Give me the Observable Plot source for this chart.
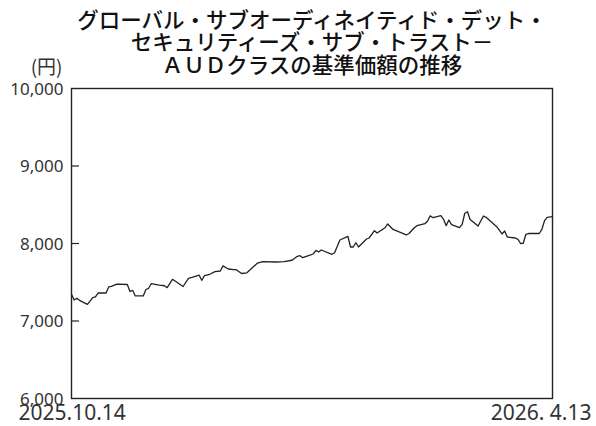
<!DOCTYPE html>
<html>
<head>
<meta charset="utf-8">
<script src="https://cdn.jsdelivr.net/npm/d3@7"></script>
<script src="https://cdn.jsdelivr.net/npm/@observablehq/plot@0.6"></script>
<style>
  html, body { margin: 0; padding: 0; background: #fff; }
  #chart svg { display: block; }
</style>
</head>
<body>
<div id="chart"></div>
<script>
const titleLines = [
  "グローバル・サブオーディネイティド・デット・",
  "セキュリティーズ・サブ・トラスト－",
  "ＡＵＤクラスの基準価額の推移"
];
const unitLabel = "(円)";
const startLabel = "2025.10.14";
const endLabel = "2026. 4.13";
const yTicks = [6000, 7000, 8000, 9000, 10000];
const innerTicks = [7000, 8000, 9000];

const dates = [
  "2025-10-14","2025-10-15","2025-10-16","2025-10-17","2025-10-20","2025-10-22","2025-10-23","2025-10-24",
  "2025-10-27","2025-10-28","2025-10-29","2025-10-31","2025-11-04","2025-11-05","2025-11-06","2025-11-07",
  "2025-11-10","2025-11-11","2025-11-12","2025-11-13","2025-11-16","2025-11-18","2025-11-19","2025-11-21",
  "2025-11-25","2025-11-27","2025-11-29","2025-12-01","2025-12-02","2025-12-03","2025-12-05","2025-12-07",
  "2025-12-09","2025-12-10","2025-12-12","2025-12-14","2025-12-15","2025-12-17","2025-12-19","2025-12-23",
  "2025-12-25","2025-12-30","2026-01-02","2026-01-05","2026-01-07","2026-01-08","2026-01-09","2026-01-12",
  "2026-01-13","2026-01-14","2026-01-15","2026-01-16","2026-01-20","2026-01-21","2026-01-23","2026-01-26",
  "2026-01-27","2026-01-28","2026-01-29","2026-01-30","2026-02-02","2026-02-03","2026-02-05","2026-02-06",
  "2026-02-09","2026-02-10","2026-02-12","2026-02-17","2026-02-18","2026-02-20","2026-02-21","2026-02-24",
  "2026-02-25","2026-02-26","2026-02-27","2026-03-02","2026-03-03","2026-03-04","2026-03-05","2026-03-06",
  "2026-03-09","2026-03-10","2026-03-11","2026-03-12","2026-03-13","2026-03-16","2026-03-18","2026-03-19",
  "2026-03-23","2026-03-25","2026-03-26","2026-03-27","2026-03-30","2026-03-31","2026-04-01","2026-04-02",
  "2026-04-03","2026-04-04","2026-04-08","2026-04-09","2026-04-10","2026-04-11","2026-04-13"
];
const navValues = [
  7345, 7271, 7293, 7267, 7215, 7301, 7310, 7361,
  7361, 7439, 7448, 7477, 7471, 7381, 7396, 7323,
  7323, 7406, 7422, 7481, 7464, 7455, 7430, 7538,
  7445, 7551, 7568, 7593, 7525, 7584, 7603, 7636,
  7645, 7712, 7671, 7662, 7662, 7613, 7622, 7748,
  7765, 7761, 7765, 7784, 7835, 7843, 7817, 7852,
  7868, 7912, 7890, 7916, 7861, 7881, 8045, 8093,
  7955, 7955, 8010, 7955, 8058, 8071, 8165, 8135,
  8204, 8252, 8181, 8110, 8129, 8204, 8230, 8255,
  8290, 8357, 8333, 8359, 8312, 8230, 8303, 8243,
  8204, 8248, 8390, 8410, 8310, 8226, 8355, 8338,
  8217, 8123, 8161, 8084, 8071, 8054, 8000, 8003,
  8119, 8129, 8129, 8183, 8294, 8338, 8348
];

const parse = d3.utcParse("%Y-%m-%d");
const data = dates.map((d, i) => ({date: parse(d), value: navValues[i]}));
const titleData = titleLines.map((t, i) => ({text: t, row: i - titleLines.length}));

const tickFont = "'Noto Sans', 'DejaVu Sans', sans-serif";
const jpFont = "'Noto Sans CJK JP', sans-serif";

const chart = Plot.plot({
  width: 596,
  height: 426,
  marginTop: 88,
  marginLeft: 71,
  marginRight: 44,
  marginBottom: 28,
  style: {fontFamily: tickFont, background: "#fff"},
  x: {type: "utc", domain: [parse("2025-10-14"), parse("2026-04-13")]},
  y: {domain: [6000, 10000]},
  marks: [
    Plot.axisX({ticks: [], label: null, tickSize: 0}),
    Plot.axisY({ticks: yTicks, tickSize: 0, tickPadding: 8, label: null,
      tickFormat: d3.format(","), fontSize: 17, fill: "#333", dy: 1}),
    Plot.axisY({ticks: innerTicks, tickSize: 8, dx: 8, label: null,
      tickFormat: () => "", stroke: "#222", strokeWidth: 1.2}),
    Plot.lineY(data, {x: "date", y: "value", stroke: "#222", strokeWidth: 1.3}),
    Plot.frame({stroke: "#222", strokeWidth: 1.4}),
    ...titleData.map(d => Plot.text([d.text], {
      frameAnchor: "top", lineAnchor: "middle", dy: d.row * 22.5,
      fontSize: 21.5, fontWeight: 500, fontFamily: jpFont, fill: "#111"
    })),
    Plot.text([unitLabel], {
      frameAnchor: "top-left", textAnchor: "end", lineAnchor: "bottom",
      dx: -9, dy: -15, fontSize: 19, fontFamily: jpFont, fill: "#333"
    }),
    Plot.text([startLabel], {
      frameAnchor: "bottom-left", textAnchor: "start", lineAnchor: "top",
      dx: -53, dy: 7, fontSize: 21, fill: "#333"
    }),
    Plot.text([endLabel], {
      frameAnchor: "bottom-right", textAnchor: "end", lineAnchor: "top",
      dx: 39, dy: 7, fontSize: 21, fill: "#333"
    })
  ]
});
document.getElementById("chart").appendChild(chart);
</script>
</body>
</html>
